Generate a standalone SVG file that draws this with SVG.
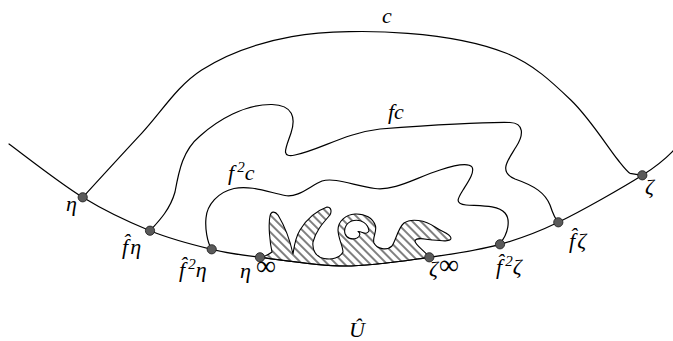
<svg xmlns="http://www.w3.org/2000/svg" width="673" height="341" viewBox="0 0 673 341">
<defs>
<style>
.crv{fill:none;stroke:#000;stroke-width:1.2;stroke-linejoin:round;stroke-linecap:round}
.dot{fill:#5a5a5a;stroke:#222;stroke-width:0.9}
.lab{font-family:"Liberation Serif","DejaVu Serif",serif;font-style:italic;font-size:22px;fill:#000}
.sup{font-size:15px}
.inf{font-size:28px;font-style:normal}
</style>
<pattern id="hatch" patternUnits="userSpaceOnUse" width="6" height="6" patternTransform="rotate(45)">
<line x1="0" y1="3" x2="6" y2="3" stroke="#000" stroke-width="1"/>
</pattern>
</defs>
<rect width="673" height="341" fill="#fff"/>

<g id="limit-set">
<path fill="url(#hatch)" fill-rule="evenodd" stroke="#000" stroke-width="1.1" stroke-linejoin="round" d="M 260,257.3 C 264,257 268,255 272,252 C 270,243 268,225 270,216 C 271,211 275,211 278,215 C 284,225 290,240 293,254 C 294,248 295,238 300,230 C 306,220 316,211 327,207 C 331,207 332,211 330,215 C 324,222 316,230 313,242 C 312,250 316,257 324,258.5 C 332,260 340,258 343,252 C 343,246 338,238 338,230 C 338,221 346,214.5 355,214 C 365,213.5 373,218 375.5,226 C 377,232 372,238 374,243 C 377,249 387,251 392,246 C 396,240 398,228 404,223 C 411,218 425,220 435,227 C 442,232 450,233 451,238 C 451,242 442,241 432,240 C 424,239 416,237 415,241 C 415,245 425,251 429.3,257.3 C 403.5,260.9 373.2,266 345,266 C 316.8,266 282.2,260.1 260,257.3 Z M 369,231 C 368,223 361,219.5 354,220.5 C 347,221.5 343.5,228 345,233.5 C 346.5,238.5 352,240 357,238 C 360,236.5 361,233 358,231.5 C 362,231 366,236 369,231 Z"/>
</g>

<g id="boundary">
<path class="crv" d="M 9,144 C 21.3,152.9 59.2,182.9 82.7,197.3 C 106.2,211.75 128.5,222 150,230.7 C 171.5,239.4 193.4,244.9 211.7,249.3 C 230,253.7 237.8,254.5 260,257.3 C 282.2,260.1 316.8,266 345,266 C 373.2,266 403.5,260.9 429.3,257.3 C 455.1,253.7 478.5,250.1 500,244.3 C 521.5,238.5 534.6,233.8 558.3,222.3 C 582,210.8 623.2,187.4 642.3,175.3 C 661.4,163.3 667.9,156.2 673,151"/>
</g>

<g id="connectors">
<path id="c" class="crv" d="M 82.7,197.3 C 92.5,186.6 121.8,154.5 141.6,133.3 C 161.4,112.1 176.7,86.1 201.7,70 C 226.7,53.9 257.5,42.8 291.8,36.7 C 326.1,30.6 371.9,30.5 407.7,33.3 C 443.5,36.1 479.2,42.2 506.4,53.3 C 533.6,64.4 552.2,82.2 570.8,100 C 589.4,117.8 608.1,147.8 618,160 C 624,167.5 627,171.5 630,173.3 L 642.3,175.3"/>
<path id="fc" class="crv" d="M 150,230.7 C 158,222 170,210 175,192 C 179,170 183,150 200,136 C 218,120 245,104 272,104.5 C 293,105 296,118 291,133 C 286,148 280,158 295,155 C 320,150 345,133 380,129 C 420,126 480,122 510,122.5 C 524,123 524,135 516,147 C 508,160 498,172 515,179 C 535,186 545,193 550,205 C 553,214 555,219 558.3,222.3"/>
<path id="f2c" class="crv" d="M 211.7,249.3 C 207,242 205,228 206,218 C 207,205 218,192 234,188.5 C 250,185 268,192 285,195.5 C 298,198 310,186 322,181 C 335,177 355,186 375,188.5 C 395,191 415,178 440,170 C 455,165 468,162 472,167 C 475,172 468,182 463,190 C 458,198 454,204 466,205 C 480,206 498,205 505,213 C 511,220 508,234 500,243.3"/>
</g>

<g id="curve-labels">
<text class="lab" x="382" y="22.5">c</text>
<text class="lab" x="388" y="118.5">fc</text>
<text class="lab" x="228" y="179.5">f<tspan class="sup" dx="3" dy="-8">2</tspan><tspan dy="8">c</tspan></text>
</g>

<g id="eta">
<circle class="dot" cx="82.7" cy="197.3" r="4.6"/>
<text class="lab" x="66" y="211">η</text>
</g>
<g id="f-eta">
<circle class="dot" cx="150" cy="230.7" r="4.6"/>
<text class="lab" x="122" y="254">f&#770;<tspan dx="2">η</tspan></text>
</g>
<g id="f2-eta">
<circle class="dot" cx="211.7" cy="249.3" r="4.6"/>
<text class="lab" x="179" y="277">f&#770;<tspan class="sup" dx="3" dy="-8">2</tspan><tspan dy="8">η</tspan></text>
</g>
<g id="eta-inf">
<circle class="dot" cx="260" cy="257.3" r="4.6"/>
<text class="lab" x="240" y="278">η<tspan class="inf" dx="5" dy="-3">∞</tspan></text>
</g>
<g id="zeta-inf">
<circle class="dot" cx="429.3" cy="257.3" r="4.6"/>
<text class="lab" x="429" y="276">ζ<tspan class="inf" dx="1" dy="-2">∞</tspan></text>
</g>
<g id="f2-zeta">
<circle class="dot" cx="500" cy="244.3" r="4.6"/>
<text class="lab" x="496" y="274">f&#770;<tspan class="sup" dx="3" dy="-8">2</tspan><tspan dy="8">ζ</tspan></text>
</g>
<g id="f-zeta">
<circle class="dot" cx="558.3" cy="222.3" r="4.6"/>
<text class="lab" x="569" y="248">f&#770;<tspan dx="2">ζ</tspan></text>
</g>
<g id="zeta">
<circle class="dot" cx="642.3" cy="175.3" r="4.6"/>
<text class="lab" x="645" y="194">ζ</text>
</g>

<g id="U-label">
<text class="lab" x="349" y="337">Û</text>
</g>
</svg>
